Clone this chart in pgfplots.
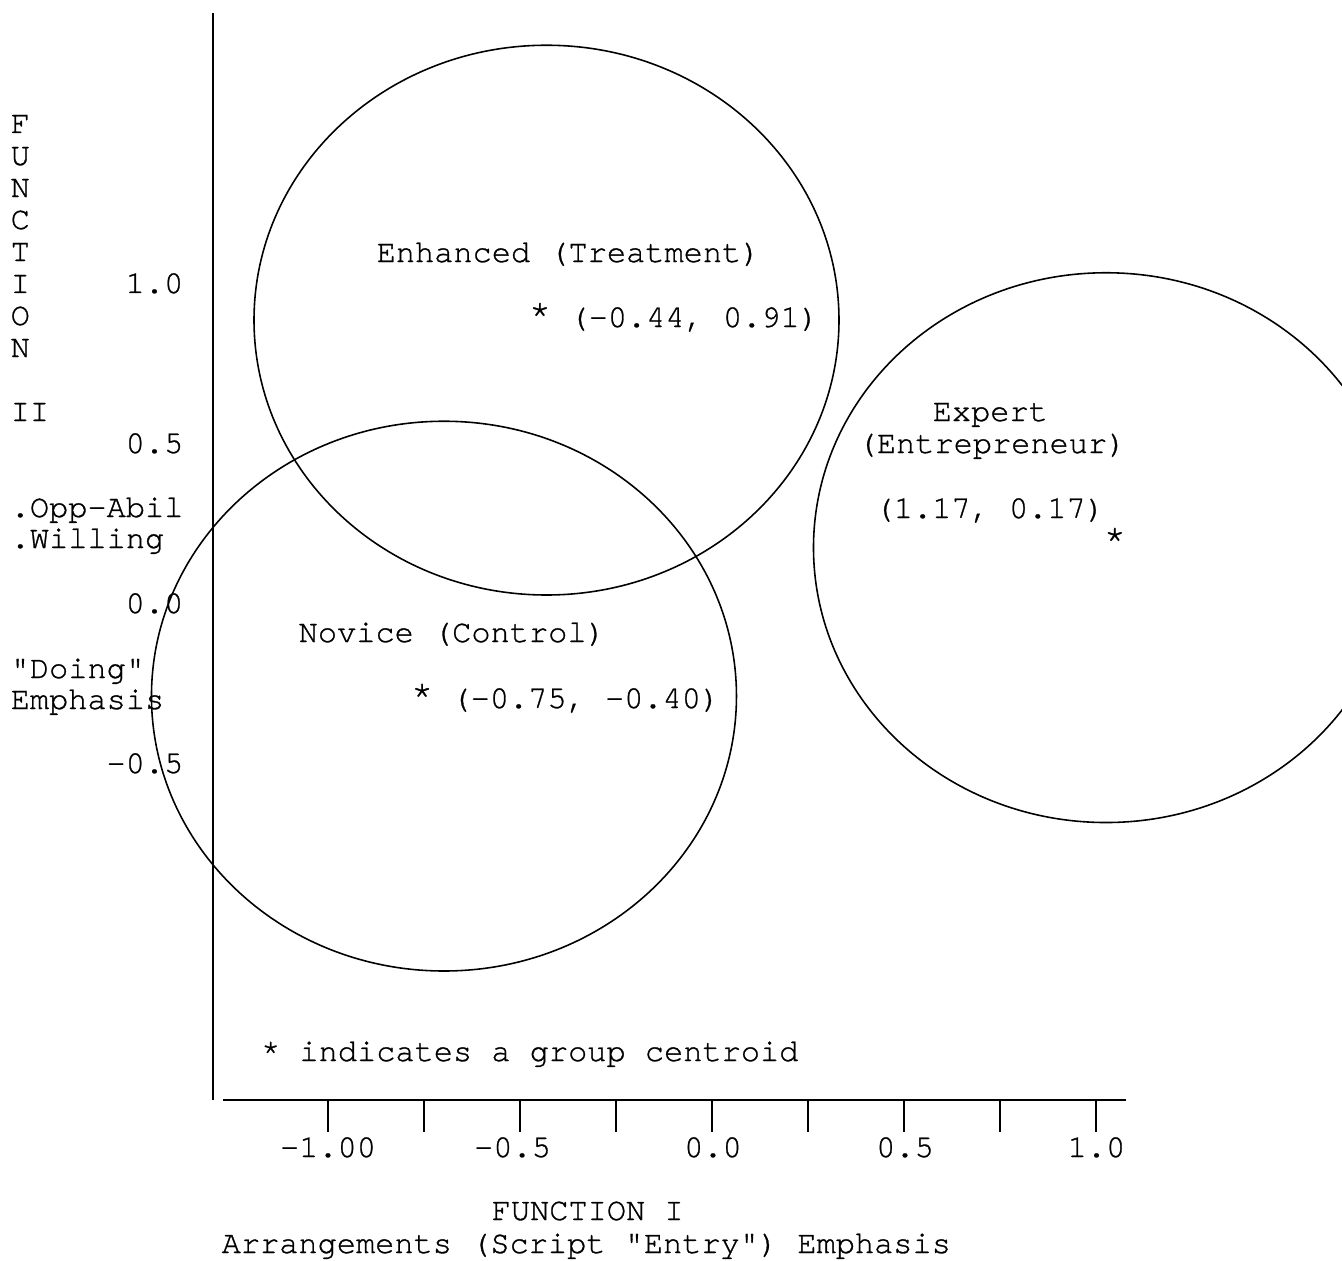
\documentclass[border=0pt]{standalone}
\usepackage{fontspec}
\setmainfont{TeX Gyre Cursor}[Ligatures=TeXOff, FakeBold=0.9]
\usepackage{pgfplots}
\pgfplotsset{compat=1.18}
\newcommand{\dq}{\char34\relax}
\begin{document}
\fontsize{9.1pt}{9.1pt}\selectfont
\begin{tikzpicture}[txt/.style={anchor=base west, inner sep=0pt}, txe/.style={anchor=base east, inner sep=0pt}, txc/.style={anchor=base, inner sep=0pt}]
\begin{axis}[
  scale only axis, width=134.2mm, height=126mm,
  xmin=-1.854167, xmax=1.640625, ymin=-2.053125, ymax=1.884375,
  hide axis, clip=true,
]
\path (rel axis cs:0,0) rectangle (rel axis cs:1,1);
% frame lines
\draw[line width=0.45pt] (axis cs:{(213-712)/384},{(603-13)/320}) -- (axis cs:{(213-712)/384},{(603-1100)/320});
\draw[line width=0.6pt] (axis cs:{(223-712)/384},{(603-1100)/320}) -- (axis cs:{(1126-712)/384},{(603-1100)/320});
\pgfplotsinvokeforeach{-1,-0.75,-0.5,-0.25,0,0.25,0.5,0.75,1}{
  \draw[line width=0.45pt] (axis cs:#1,-1.553125) -- (axis cs:#1,-1.653125);
}
% x tick labels
\node[txc] at (axis cs:{(328-712)/384},{(603-1157)/320}) {-1.00};
\node[txc] at (axis cs:{(512.5-712)/384},{(603-1157)/320}) {-0.5};
\node[txc] at (axis cs:{(713-712)/384},{(603-1157)/320}) {0.0};
\node[txc] at (axis cs:{(905-712)/384},{(603-1157)/320}) {0.5};
\node[txc] at (axis cs:{(1096.5-712)/384},{(603-1157)/320}) {1.0};
% y tick labels
\node[txe] at (axis cs:{(184-712)/384},{(603-293)/320}) {1.0};
\node[txe] at (axis cs:{(184-712)/384},{(603-453)/320}) {0.5};
\node[txe] at (axis cs:{(184-712)/384},{(603-613)/320}) {0.0};
\node[txe] at (axis cs:{(184-712)/384},{(603-773)/320}) {-0.5};
% vertical axis title
\node[txt] at (axis cs:{(10-712)/384},{(603-133)/320}) {F};
\node[txt] at (axis cs:{(10-712)/384},{(603-165)/320}) {U};
\node[txt] at (axis cs:{(10-712)/384},{(603-197)/320}) {N};
\node[txt] at (axis cs:{(10-712)/384},{(603-229)/320}) {C};
\node[txt] at (axis cs:{(10-712)/384},{(603-261)/320}) {T};
\node[txt] at (axis cs:{(10-712)/384},{(603-293)/320}) {I};
\node[txt] at (axis cs:{(10-712)/384},{(603-325)/320}) {O};
\node[txt] at (axis cs:{(10-712)/384},{(603-357)/320}) {N};
\node[txt] at (axis cs:{(10-712)/384},{(603-421)/320}) {II};
\node[txt] at (axis cs:{(10-712)/384},{(603-517)/320}) {.Opp-Abil};
\node[txt] at (axis cs:{(10-712)/384},{(603-548)/320}) {.Willing};
\node[txt] at (axis cs:{(10-712)/384},{(603-678)/320}) {\dq Doing\dq};
\node[txt] at (axis cs:{(10-712)/384},{(603-709)/320}) {Emphasis};
% group circles
\draw[line width=0.45pt] (axis cs:-0.431,0.884) ellipse [x radius=0.7617, y radius=0.859];
\draw[line width=0.45pt] (axis cs:-0.698,-0.291) ellipse [x radius=0.7617, y radius=0.859];
\draw[line width=0.45pt] (axis cs:1.026,0.173) ellipse [x radius=0.7617, y radius=0.859];
% centroids
\addplot[black, draw=none, mark=none, nodes near coords={*},
  every node near coord/.append style={anchor=base, yshift=-1.3mm, inner sep=0pt, text=black, font=\fontsize{10.5pt}{10.5pt}\selectfont}]
  coordinates {(-0.448,0.909) (-0.755,-0.281) (1.049,0.206)};
% group labels
\node[txt] at (axis cs:{(376-712)/384},{(603-262)/320}) {Enhanced (Treatment)};
\node[txt] at (axis cs:{(530.4-712)/384},{(603-327)/320}) {\phantom{*} (-0.44, 0.91)};
\node[txt] at (axis cs:{(298-712)/384},{(603-642)/320}) {Novice (Control)};
\node[txt] at (axis cs:{(412.4-712)/384},{(603-708)/320}) {\phantom{*} (-0.75, -0.40)};
\node[txt] at (axis cs:{(932-712)/384},{(603-421)/320}) {Expert};
\node[txt] at (axis cs:{(857-712)/384},{(603-453)/320}) {(Entrepreneur)};
\node[txt] at (axis cs:{(874-712)/384},{(603-518)/320}) {(1.17, 0.17)};
% notes and x title
\node[txt] at (axis cs:{(260.4-712)/384},{(603-1061)/320}) {* indicates a group centroid};
\node[txt] at (axis cs:{(491-712)/384},{(603-1220)/320}) {FUNCTION I};
\node[txt] at (axis cs:{(221-712)/384},{(603-1253)/320}) {Arrangements (Script \dq Entry\dq) Emphasis};
\end{axis}
\end{tikzpicture}
\end{document}
